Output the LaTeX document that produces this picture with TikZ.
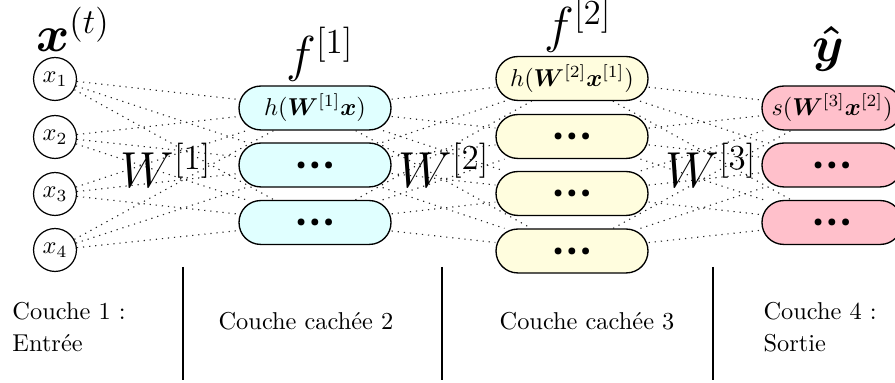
\documentclass[tikz,border=0pt]{standalone}
\usepackage{amsmath}
\usepackage{bm}
\definecolor{hidA}{RGB}{224,255,255}
\definecolor{hidB}{RGB}{255,253,222}
\definecolor{outC}{RGB}{255,192,203}
% three heavy centred dots
\newcommand{\heavydots}{$\bm{{\scriptscriptstyle\bullet}\,{\scriptscriptstyle\bullet}\,{\scriptscriptstyle\bullet}}$}
\begin{document}
\begin{tikzpicture}[x=0.41pt,y=-0.41pt,
  neuron/.style={circle,draw,line width=0.5pt,minimum size=17.6pt,inner sep=0pt},
  unit/.style={rectangle,rounded corners=8.9pt,draw,line width=0.55pt,
    minimum width=62.3pt,minimum height=18pt,inner sep=1pt},
  outunit/.style={unit,minimum width=57.4pt,fill=outC},
  link/.style={draw=black!85,line width=0.45pt,dash pattern=on 0.5pt off 2pt},
  sepline/.style={line width=0.75pt},
  big/.style={font=\huge,inner sep=0pt,anchor=base},
  caption/.style={inner sep=0pt}]
\useasboundingbox (0,0) rectangle (895,383);

% input layer
\node[neuron] (x1) at (55,79)  {$x_1$};
\node[neuron] (x2) at (55,137) {$x_2$};
\node[neuron] (x3) at (55,194) {$x_3$};
\node[neuron] (x4) at (55,250) {$x_4$};

% first hidden layer
\node[unit,fill=hidA] (a1) at (315,108)   {$h(\bm{W}^{[1]}\bm{x})$};
\node[unit,fill=hidA] (a2) at (315,165)   {\heavydots};
\node[unit,fill=hidA] (a3) at (315,222.5) {\heavydots};

% second hidden layer
\node[unit,fill=hidB] (b1) at (572,78.5)  {$h(\bm{W}^{[2]}\bm{x}^{[1]})$};
\node[unit,fill=hidB] (b2) at (572,136.5) {\heavydots};
\node[unit,fill=hidB] (b3) at (572,193.5) {\heavydots};
\node[unit,fill=hidB] (b4) at (572,251)   {\heavydots};

% output layer
\node[outunit] (c1) at (832,108)   {$s(\bm{W}^{[3]}\bm{x}^{[2]})$};
\node[outunit] (c2) at (832,165)   {\heavydots};
\node[outunit] (c3) at (832,222.5) {\heavydots};

% weighted connections
\foreach \i in {1,...,4}
  \foreach \j in {1,2,3}
    \draw[link] (x\i) -- (a\j);
\foreach \i in {1,2,3}
  \foreach \j in {1,...,4}
    \draw[link] (a\i) -- (b\j);
\foreach \i in {1,...,4}
  \foreach \j in {1,2,3}
    \draw[link] (b\i) -- (c\j);

% layer and weight labels
\node[big] (xt) at (73,52)  {$\bm{x}^{(t)}$};
\node[big] (f1) at (320,72) {$f^{[1]}$};
\node[big] (f2) at (578,43) {$f^{[2]}$};
\node[big] (yh) at (828,62) {$\bm{\hat{y}}$};
\node[big] (w1) at (166,188) {$W^{[1]}$};
\node[big] (w2) at (444,188) {$W^{[2]}$};
\node[big] (w3) at (711,188) {$W^{[3]}$};

% separators between layers
\coordinate (s1t) at (183,267); \coordinate (s1b) at (183,380);
\coordinate (s2t) at (442,267); \coordinate (s2b) at (442,380);
\coordinate (s3t) at (713,267); \coordinate (s3b) at (713,380);
\draw[sepline] (s1t) -- (s1b);
\draw[sepline] (s2t) -- (s2b);
\draw[sepline] (s3t) -- (s3b);

% layer names
\node[caption,anchor=base west] (l1a) at (12,320) {Couche 1 :};
\node[caption,anchor=base west] (l1b) at (12,352) {Entrée};
\node[caption,anchor=base] (l2) at (306,330) {Couche cachée 2};
\node[caption,anchor=base] (l3) at (587,330) {Couche cachée 3};
\node[caption,anchor=base west] (l4a) at (763,320) {Couche 4 :};
\node[caption,anchor=base west] (l4b) at (763,352) {Sortie};
\end{tikzpicture}
\end{document}
